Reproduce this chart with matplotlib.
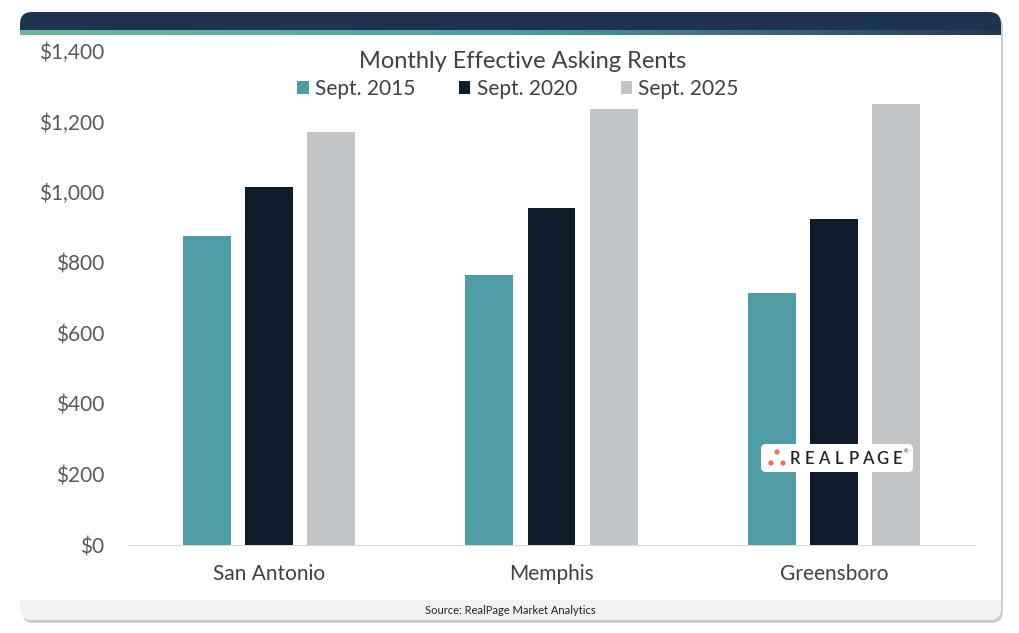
import numpy as np
import matplotlib.pyplot as plt
from matplotlib.patches import FancyBboxPatch, Rectangle, Circle
from matplotlib.colors import LinearSegmentedColormap

plt.rcParams['font.family'] = ['Lato', 'DejaVu Sans']

# data
markets = ['San Antonio', 'Memphis', 'Greensboro']
series = ['Sept. 2015', 'Sept. 2020', 'Sept. 2025']
rent_2015 = [875, 765, 715]
rent_2020 = [1015, 955, 925]
rent_2025 = [1170, 1235, 1250]
colors = ['#4f9ea6', '#0d1b2a', '#c1c4c7']

W, H = 1020, 633
fig = plt.figure(figsize=(W / 100, H / 100), dpi=100)
fig.patch.set_facecolor('white')

# card background (shadow, body, header, footer)
bg = fig.add_axes([0, 0, 1, 1])
bg.set_xlim(0, W)
bg.set_ylim(H, 0)
bg.axis('off')
bg.add_patch(FancyBboxPatch((22, 15), 981, 608, boxstyle='round,pad=0,rounding_size=12',
                            fc='#9a9a9a', ec='none', alpha=0.5))
bg.add_patch(FancyBboxPatch((20, 12), 981, 608, boxstyle='round,pad=0,rounding_size=12',
                            fc='white', ec='none'))
bg.add_patch(FancyBboxPatch((20, 12), 981, 30, boxstyle='round,pad=0,rounding_size=12',
                            fc='#1e334d', ec='none'))
grad = LinearSegmentedColormap.from_list('g', ['#68b9a0', '#4f9ea6', '#1e3a52'])
bg.imshow(np.linspace(0, 1, 256)[None, :], cmap=grad, aspect='auto',
          extent=(20, 1001, 35, 30), zorder=2)
bg.add_patch(Rectangle((20, 35), 981, 10, fc='white', ec='none', zorder=2))
bg.add_patch(FancyBboxPatch((20, 585), 981, 35, boxstyle='round,pad=0,rounding_size=12',
                            fc='#f2f2f2', ec='none'))
bg.add_patch(Rectangle((20, 585), 981, 15, fc='white', ec='none'))
bg.add_patch(Rectangle((20, 600), 981, 10, fc='#f2f2f2', ec='none'))
bg.text(510, 611, 'Source: RealPage Market Analytics', ha='center', va='center',
        fontsize=8, color='#222222')

# chart axes
ax = fig.add_axes([128 / W, 1 - 545 / H, 847 / W, 494 / H])
ax.patch.set_alpha(0)
x = np.arange(len(markets))
bw = 0.17
off = 0.22
for i, (vals, lab) in enumerate(zip([rent_2015, rent_2020, rent_2025], series)):
    ax.bar(x + (i - 1) * off, vals, bw, color=colors[i], label=lab, zorder=3)

ax.set_xlim(-0.5, 2.5)
ax.set_ylim(0, 1400)
ax.set_yticks(np.arange(0, 1401, 200))
ax.set_yticklabels([f'${v:,.0f}' for v in np.arange(0, 1401, 200)])
ax.set_xticks(x)
ax.set_xticklabels(markets)
ax.tick_params(axis='y', length=0, pad=17, labelsize=15, labelcolor='#595959')
ax.tick_params(axis='x', length=0, pad=14, labelsize=15, labelcolor='#404040')
for s in ['top', 'right', 'left']:
    ax.spines[s].set_visible(False)
ax.spines['bottom'].set_color('#d9d9d9')

fig.text(523 / W, 1 - 61 / H, 'Monthly Effective Asking Rents', fontsize=17,
         color='#404040', ha='center', va='center')
handles, labels = ax.get_legend_handles_labels()
fig.legend(handles, labels, loc='center', bbox_to_anchor=(518 / W, 1 - 89 / H), ncol=3,
           frameon=False, fontsize=15, labelcolor='#404040', handlelength=0.55,
           handleheight=0.55, columnspacing=2.1, handletextpad=0.3,
           borderpad=0, borderaxespad=0)

# logo on top of the bars
top = fig.add_axes([0, 0, 1, 1])
top.set_xlim(0, W)
top.set_ylim(H, 0)
top.axis('off')
top.add_patch(FancyBboxPatch((761, 444), 152, 28, boxstyle='round,pad=0,rounding_size=5',
                             fc='white', ec='none'))
for cx, cy in [(777, 452), (771, 463), (783, 463)]:
    top.add_patch(Circle((cx, cy), 2.6, fc='#f26b4f', ec='none'))
for k, ch in enumerate('REALPAGE'):
    top.text(795 + k * 14.6, 459, ch, fontsize=12, color='#222222', va='center',
             ha='center', fontweight='semibold')
top.text(904, 452, '®', fontsize=4, color='#222222', ha='left', va='center')

fig.savefig('out.png', dpi=100)
